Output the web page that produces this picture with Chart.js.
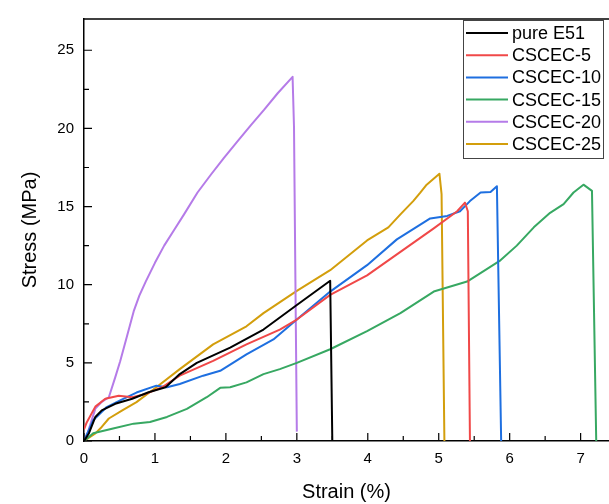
<!DOCTYPE html>
<html>
<head>
<meta charset="utf-8">
<script src="https://cdn.jsdelivr.net/npm/chart.js@4.4.1/dist/chart.umd.min.js"></script>
<style>
  html, body { margin: 0; padding: 0; background: #ffffff; }
  #wrap { width: 609px; height: 504px; position: relative; }
</style>
</head>
<body>
<div id="wrap"><canvas id="c" width="609" height="504"></canvas></div>
<script>
// ---- data ----
const seriesNames = ["pure E51", "CSCEC-5", "CSCEC-10", "CSCEC-15", "CSCEC-20", "CSCEC-25"];
const seriesColors = ["#000000", "#f04848", "#1e6fe0", "#37a862", "#b57be8", "#d39e0c"];

const e51Strain = [0, 0.07, 0.16, 0.25, 0.44, 0.68, 0.91, 1.15, 1.35, 1.59, 2.06, 2.53, 3.0, 3.47, 3.50];
const e51Stress = [0, 0.5, 1.54, 1.96, 2.38, 2.7, 3.12, 3.44, 4.28, 5.0, 5.97, 7.13, 8.7, 10.25, 0];

const c5Strain = [0, 0.04, 0.16, 0.3, 0.49, 0.68, 0.86, 1.10, 1.35, 1.82, 2.29, 2.76, 3.0, 3.47, 3.99, 4.46, 4.93, 5.26, 5.37, 5.41, 5.44];
const c5Stress = [0.75, 1.2, 2.2, 2.7, 2.9, 2.8, 3.0, 3.44, 4.18, 5.13, 6.18, 7.13, 7.77, 9.35, 10.6, 12.1, 13.6, 14.7, 15.25, 14.7, 0];

const c10Strain = [0, 0.13, 0.32, 0.51, 0.74, 1.02, 1.17, 1.35, 1.68, 1.92, 2.29, 2.67, 3.0, 3.47, 3.99, 4.41, 4.88, 5.12, 5.30, 5.44, 5.59, 5.73, 5.82, 5.88];
const c10Stress = [0, 1.33, 2.17, 2.6, 3.1, 3.54, 3.44, 3.65, 4.18, 4.49, 5.54, 6.5, 7.77, 9.56, 11.25, 12.9, 14.24, 14.4, 14.7, 15.35, 15.9, 15.93, 16.3, 0];

const c15Strain = [0, 0.13, 0.41, 0.70, 0.93, 1.17, 1.45, 1.73, 1.92, 2.06, 2.29, 2.53, 2.76, 3.0, 3.47, 3.99, 4.46, 4.93, 5.40, 5.87, 6.10, 6.34, 6.57, 6.76, 6.90, 7.04, 7.16, 7.22];
const c15Stress = [0, 0.49, 0.8, 1.11, 1.22, 1.54, 2.06, 2.8, 3.4, 3.44, 3.75, 4.28, 4.6, 5.0, 5.87, 7.03, 8.18, 9.56, 10.2, 11.56, 12.5, 13.67, 14.6, 15.15, 15.9, 16.4, 16.0, 0];

const c20Strain = [0, 0.05, 0.16, 0.25, 0.35, 0.44, 0.51, 0.60, 0.70, 0.78, 0.87, 1.0, 1.13, 1.27, 1.41, 1.60, 1.79, 1.97, 2.16, 2.35, 2.54, 2.73, 2.94, 2.96, 2.98, 3.0];
const c20Stress = [0, 0.5, 2.07, 2.5, 2.8, 4.07, 5.1, 6.6, 8.29, 9.3, 10.2, 11.4, 12.5, 13.5, 14.5, 15.9, 17.05, 18.1, 19.15, 20.2, 21.2, 22.25, 23.3, 20.1, 10.2, 0.6];

const c25Strain = [0, 0.16, 0.25, 0.35, 0.54, 0.74, 1.02, 1.35, 1.82, 2.29, 2.53, 3.0, 3.47, 3.99, 4.29, 4.46, 4.64, 4.74, 4.83, 5.01, 5.04, 5.08];
const c25Stress = [0, 0.49, 0.9, 1.44, 1.96, 2.49, 3.44, 4.6, 6.18, 7.34, 8.18, 9.6, 10.93, 12.83, 13.67, 14.5, 15.35, 15.89, 16.4, 17.1, 15.8, 0];

const xTickValues = [0, 1, 2, 3, 4, 5, 6, 7];
const xMinorValues = [0.5, 1.5, 2.5, 3.5, 4.5, 5.5, 6.5];
const yTickValues = [0, 5, 10, 15, 20, 25];
const yMinorValues = [2.5, 7.5, 12.5, 17.5, 22.5];

// ---- build datasets ----
const strainSets = [e51Strain, c5Strain, c10Strain, c15Strain, c20Strain, c25Strain];
const stressSets = [e51Stress, c5Stress, c10Stress, c15Stress, c20Stress, c25Stress];
const datasets = seriesNames.map((name, i) => ({
  label: name,
  data: strainSets[i].map((x, j) => ({ x: x, y: stressSets[i][j] })),
  borderColor: seriesColors[i],
  backgroundColor: seriesColors[i],
  borderWidth: 2,
  borderJoinStyle: 'round',
  pointRadius: 0,
  tension: 0,
  fill: false
}));

const FONT = "'Liberation Sans', Arial, sans-serif";

const framePlugin = {
  id: 'frame',
  afterDraw(chart) {
    const ctx = chart.ctx;
    const a = chart.chartArea;
    const xs = chart.scales.x, ys = chart.scales.y;
    ctx.save();
    ctx.strokeStyle = '#000';
    ctx.lineWidth = 1.5;
    // top border
    ctx.beginPath();
    ctx.moveTo(a.left, a.top);
    ctx.lineTo(a.right, a.top);
    ctx.stroke();
    // inward ticks
    ctx.lineWidth = 1.2;
    ctx.beginPath();
    xTickValues.forEach(v => { const p = xs.getPixelForValue(v); ctx.moveTo(p, a.bottom); ctx.lineTo(p, a.bottom - 8); });
    xMinorValues.forEach(v => { const p = xs.getPixelForValue(v); ctx.moveTo(p, a.bottom); ctx.lineTo(p, a.bottom - 5); });
    yTickValues.forEach(v => { const p = ys.getPixelForValue(v); ctx.moveTo(a.left, p); ctx.lineTo(a.left + 8, p); });
    yMinorValues.forEach(v => { const p = ys.getPixelForValue(v); ctx.moveTo(a.left, p); ctx.lineTo(a.left + 5, p); });
    ctx.stroke();

    // legend box
    const bx = 463, by = 20, bw = 140, bh = 138;
    ctx.fillStyle = '#fff';
    ctx.fillRect(bx, by, bw, bh);
    ctx.strokeStyle = '#444';
    ctx.lineWidth = 1;
    ctx.strokeRect(bx + 0.5, by + 0.5, bw, bh);
    ctx.font = '18px ' + FONT;
    ctx.textBaseline = 'middle';
    ctx.textAlign = 'left';
    chart.data.datasets.forEach((ds, i) => {
      const yy = 33 + i * 22.2;
      ctx.strokeStyle = ds.borderColor;
      ctx.lineWidth = 2;
      ctx.beginPath();
      ctx.moveTo(466, yy);
      ctx.lineTo(508, yy);
      ctx.stroke();
      ctx.fillStyle = '#000';
      ctx.fillText(ds.label, 512, yy + 1);
    });
    ctx.restore();
  }
};

new Chart(document.getElementById('c'), {
  type: 'line',
  data: { datasets: datasets },
  plugins: [framePlugin],
  options: {
    responsive: false,
    animation: false,
    layout: { padding: { top: 13, right: 0, left: 0, bottom: 0 } },
    plugins: { legend: { display: false }, tooltip: { enabled: false } },
    scales: {
      x: {
        type: 'linear',
        min: 0,
        max: 7.4,
        grid: { display: false, drawTicks: false },
        border: { display: true, color: '#000', width: 1.5 },
        ticks: {
          stepSize: 1,
          includeBounds: false,
          color: '#000',
          padding: 9,
          font: { family: FONT, size: 15 },
          callback: v => (Number.isInteger(v) ? String(v) : '')
        },
        title: {
          display: true,
          text: 'Strain (%)',
          color: '#000',
          font: { family: FONT, size: 20 },
          padding: { top: 0, bottom: 0 }
        },
        afterFit: s => { s.height = 63; }
      },
      y: {
        type: 'linear',
        min: 0,
        max: 27,
        grid: { display: false, drawTicks: false },
        border: { display: true, color: '#000', width: 1.5 },
        ticks: {
          stepSize: 5,
          includeBounds: false,
          color: '#000',
          padding: 10,
          font: { family: FONT, size: 15 },
          callback: v => (v % 5 === 0 ? String(v) : '')
        },
        title: {
          display: true,
          text: 'Stress (MPa)',
          color: '#000',
          font: { family: FONT, size: 20 },
          padding: { top: 18, bottom: 0 }
        },
        afterFit: s => { s.width = 84; }
      }
    }
  }
});
</script>
</body>
</html>
